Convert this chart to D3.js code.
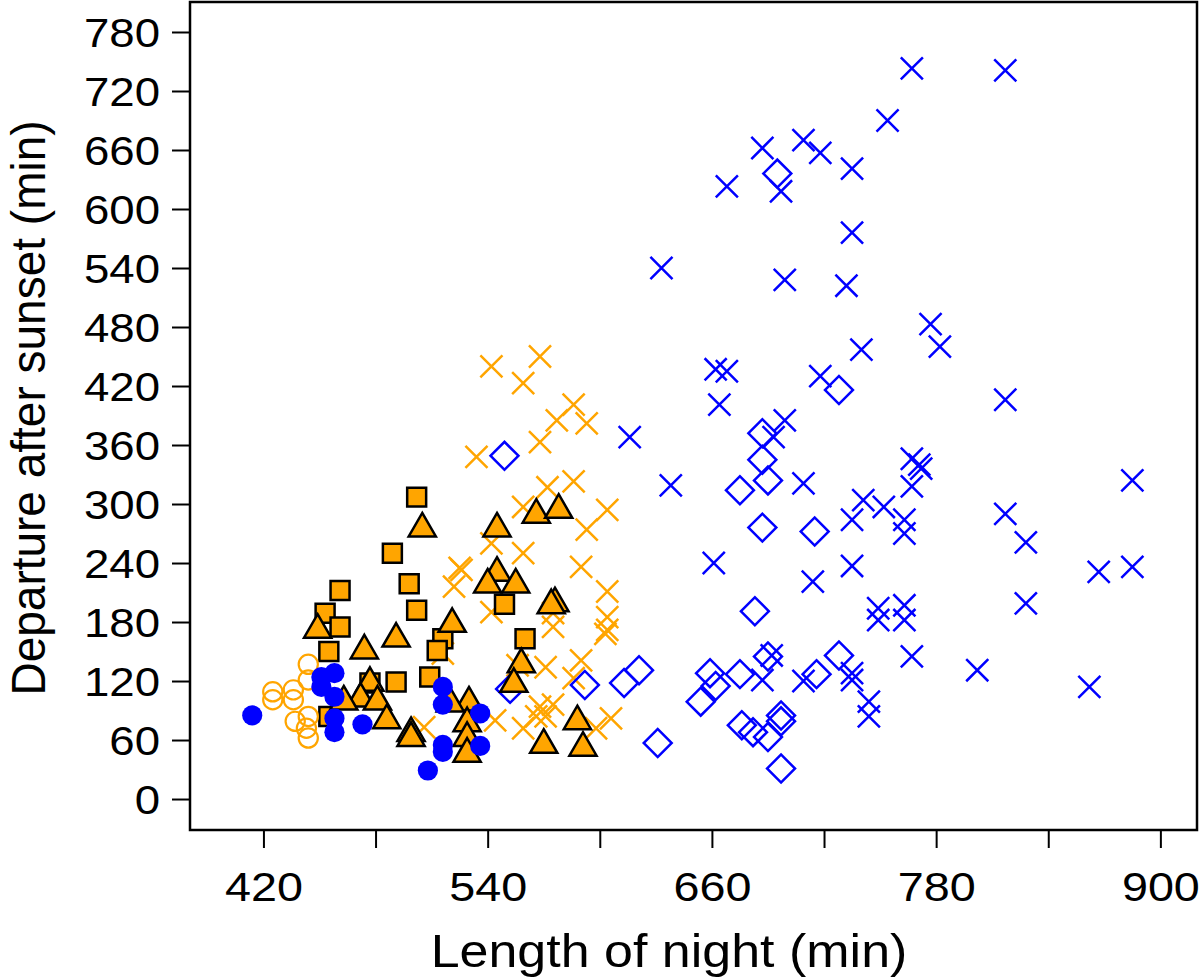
<!DOCTYPE html>
<html>
<head>
<meta charset="utf-8">
<script src="https://cdn.jsdelivr.net/npm/d3@7"></script>
<style>
  body { margin: 0; background: #fff; }
  svg text { font-family: "Liberation Sans", Arial, Helvetica, sans-serif; fill: #000; }
</style>
</head>
<body>
<svg id="chart" width="1200" height="978"></svg>
<script>
// [length of night, departure after sunset] pairs, in minutes
const orangeCrosses = [
  [542, 440], [568, 450], [559, 423], [586, 401], [577, 385], [593, 382],
  [534, 348], [568, 363], [572, 317], [586, 323], [559, 297], [604, 294],
  [593, 274], [542, 260], [559, 250], [590, 236], [525, 235], [526, 233],
  [522, 216], [604, 211], [542, 190], [575, 189], [575, 175], [604, 185],
  [604, 172], [603, 168], [571, 134], [590, 141], [586, 123], [516, 148],
  [544, 80], [568, 94], [566, 84], [571, 84], [575, 96], [559, 72],
  [598, 72], [606, 82], [506, 73], [556, 136]
];

const blueCrosses = [
  [767, 743], [817, 741], [754, 690], [687, 662], [709, 670], [718, 657],
  [697, 618], [668, 623], [735, 641], [735, 576], [633, 540], [699, 528],
  [732, 522], [740, 457], [662, 437], [668, 435], [718, 430], [664, 401],
  [699, 385], [693, 368], [777, 483], [782, 460], [817, 406], [616, 368],
  [767, 346], [771, 340], [772, 336], [767, 318], [752, 297], [763, 284],
  [763, 270], [817, 290], [828, 261], [885, 324], [867, 231], [885, 236],
  [828, 199], [763, 197], [763, 182], [767, 145], [802, 131], [862, 114],
  [709, 321], [638, 319], [741, 304], [735, 284], [661, 240], [714, 221],
  [735, 237], [749, 194], [749, 182], [692, 146], [735, 128], [735, 121],
  [687, 121], [709, 120], [744, 99], [744, 84]
];

const blueDiamonds = [
  [695, 636], [728, 416], [687, 372], [687, 345], [690, 324], [675, 314],
  [687, 276], [715, 272], [683, 191], [728, 146], [690, 145], [621, 131],
  [613, 118], [592, 116], [659, 128], [662, 115], [675, 127], [654, 99],
  [716, 127], [676, 75], [682, 68], [690, 63], [697, 85], [697, 79],
  [631, 57], [697, 31], [549, 349], [552, 112]
];

const orangeSquares = [
  [502, 307], [489, 250], [498, 219], [461, 212], [502, 192], [453, 189],
  [461, 175], [455, 150], [516, 163], [513, 151], [491, 119], [509, 124],
  [549, 198], [560, 163], [455, 84], [477, 118]
];

const orangeTriangles = [
  [505, 275], [545, 275], [566, 289], [578, 294], [545, 230], [540, 218],
  [555, 218], [576, 199], [574, 197], [449, 172], [474, 151], [491, 163],
  [521, 178], [558, 137], [554, 117], [477, 118], [472, 102], [481, 99],
  [463, 99], [486, 80], [499, 67], [499, 62], [530, 98], [529, 77],
  [529, 62], [529, 46], [570, 55], [588, 79], [591, 52], [520, 97]
];

const orangeCircles = [
  [444, 137], [444, 121], [425, 109], [425, 101], [436, 111], [436, 101],
  [437, 79], [444, 84], [443, 72], [444, 62]
];

const blueDots = [
  [414, 85], [451, 124], [458, 128], [451, 114], [458, 104], [458, 82],
  [458, 68], [473, 76], [516, 114], [516, 96], [536, 87], [516, 55],
  [516, 48], [536, 54], [508, 29]
];

const yTicks = d3.range(0, 781, 60);
const xTicks = d3.range(420, 901, 60);
const xLabelled = [420, 540, 660, 780, 900];

const ORANGE = "#FFA500";
const BLUE = "#0000FF";
const STRETCH = 1.14; // the original lettering is a bit wider than Arial

const svg = d3.select("#chart");
const box = { left: 190, right: 1197, top: 2, bottom: 830 };

const x = d3.scaleLinear().domain([380.7, 919.6]).range([box.left, box.right]);
const y = d3.scaleLinear().domain([-31.5, 810.5]).range([box.bottom, box.top]);

// axes
const yAxis = svg.append("g")
  .attr("transform", `translate(${box.left},0)`)
  .call(d3.axisLeft(y).tickValues(yTicks).tickSize(18).tickPadding(12));
yAxis.select(".domain").remove();
yAxis.selectAll("line").attr("stroke", "#000").attr("stroke-width", 2);
yAxis.selectAll("text")
  .style("font-size", "40px")
  .attr("x", -30 / STRETCH)
  .attr("dy", "0.36em")
  .attr("transform", `scale(${STRETCH},1)`);

const xAxis = svg.append("g")
  .attr("transform", `translate(0,${box.bottom})`)
  .call(d3.axisBottom(x).tickValues(xTicks).tickSize(18).tickPadding(24)
    .tickFormat(d => xLabelled.includes(d) ? d : ""));
xAxis.select(".domain").remove();
xAxis.selectAll("line").attr("stroke", "#000").attr("stroke-width", 2);
xAxis.selectAll("text")
  .style("font-size", "41px")
  .attr("transform", `scale(${STRETCH},1)`);

// plot frame
svg.append("rect")
  .attr("x", box.left).attr("y", box.top)
  .attr("width", box.right - box.left).attr("height", box.bottom - box.top)
  .attr("fill", "none").attr("stroke", "#000").attr("stroke-width", 2.5);

// axis titles
svg.append("text")
  .attr("transform", `translate(669,967) scale(1.13,1)`)
  .attr("text-anchor", "middle")
  .style("font-size", "46px")
  .text("Length of night (min)");

svg.append("text")
  .attr("transform", "translate(45,408) rotate(-90) scale(1,1.06)")
  .attr("text-anchor", "middle")
  .style("font-size", "46px")
  .text("Departure after sunset (min)");

// points, drawn in layer order
function drawPoints(data, type, size, fill, stroke, width, rotate) {
  svg.append("g").selectAll("path")
    .data(data)
    .enter().append("path")
    .attr("transform", d => `translate(${x(d[0])},${y(d[1])})` + (rotate ? " rotate(45)" : ""))
    .attr("d", d3.symbol().type(type).size(size))
    .attr("fill", fill)
    .attr("stroke", stroke)
    .attr("stroke-width", width);
}

drawPoints(orangeCrosses, d3.symbolX, 320, "none", ORANGE, 2.5);
drawPoints(blueCrosses, d3.symbolX, 320, "none", BLUE, 2.5);
drawPoints(blueDiamonds, d3.symbolSquare, 390, "none", BLUE, 2.5, true);
drawPoints(orangeSquares, d3.symbolSquare, 360, ORANGE, "#000", 2.5);
drawPoints(orangeTriangles, d3.symbolTriangle, 320, ORANGE, "#000", 2.5);
drawPoints(orangeCircles, d3.symbolCircle, 290, "none", ORANGE, 2.2);
drawPoints(blueDots, d3.symbolCircle, 320, BLUE, "none", 0);
</script>
</body>
</html>
